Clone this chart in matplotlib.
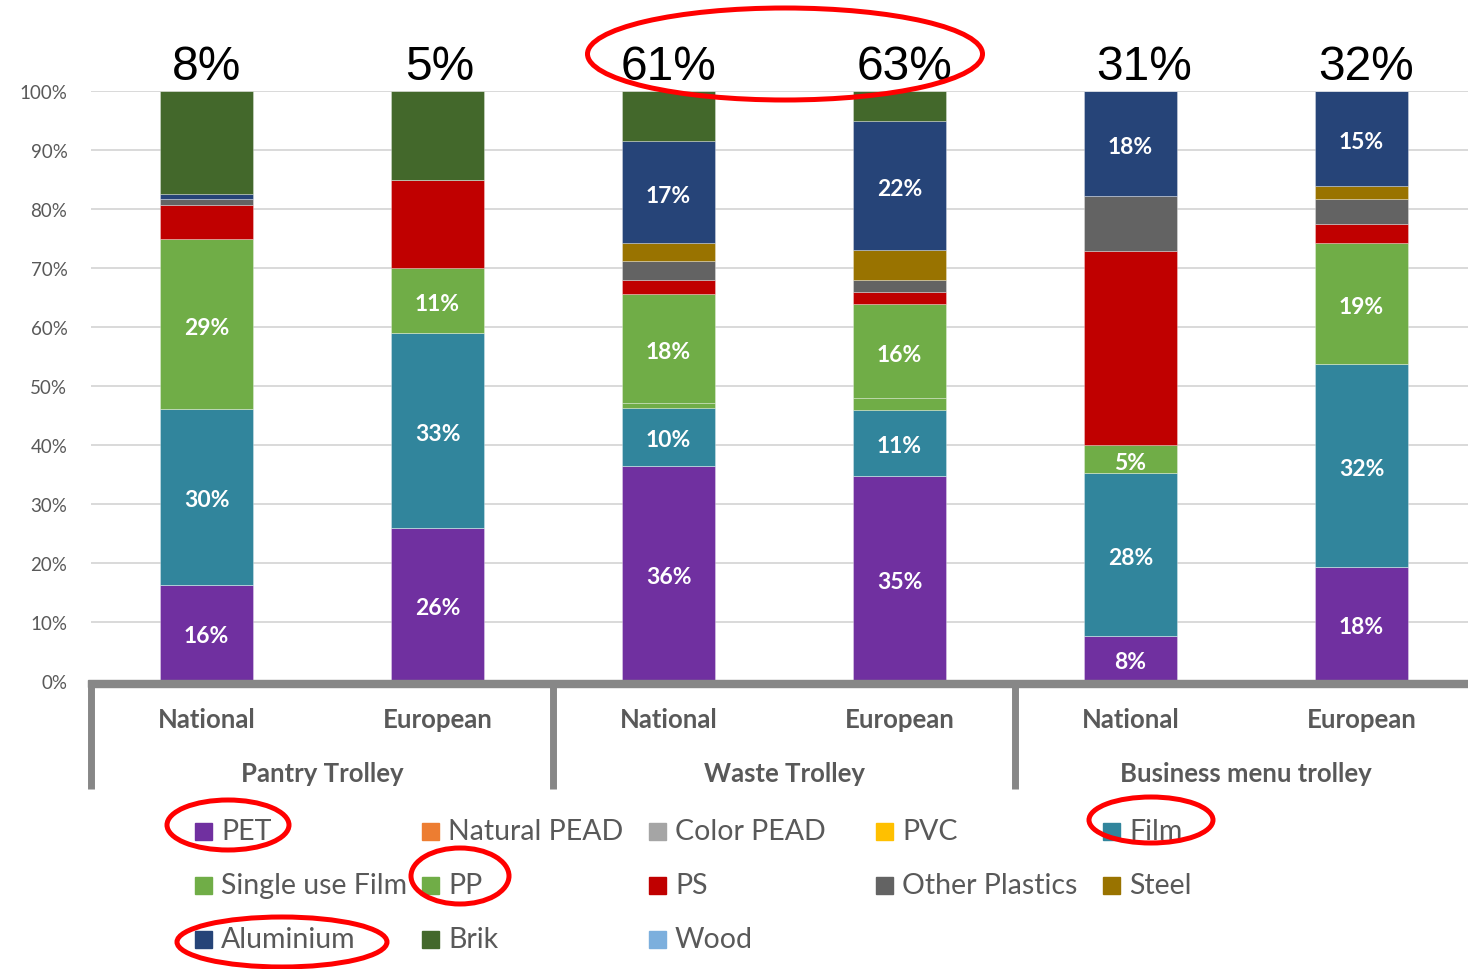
import matplotlib
matplotlib.use("Agg")
from matplotlib import pyplot as plt
from matplotlib.patches import Ellipse, Rectangle
import numpy as np

# data (raw shares per trolley, bars are normalised to 100 %)
bars = ['National', 'European', 'National', 'European', 'National', 'European']
groups = ['Pantry Trolley', 'Waste Trolley', 'Business menu trolley']
top_labels = ['8%', '5%', '61%', '63%', '31%', '32%']

series = ['PET', 'Natural PEAD', 'Color PEAD', 'PVC', 'Film',
          'Single use Film', 'PP', 'PS', 'Other Plastics', 'Steel',
          'Aluminium', 'Brik', 'Wood']
colors = ['#7030a0', '#ed7d31', '#a5a5a5', '#ffc000', '#31859c',
          '#70ad47', '#70ad47', '#c00000', '#636363', '#997300',
          '#264478', '#43682b', '#7cafdd']

pet = [16.3, 26.0, 36.2, 34.8, 7.6, 18.0]
natural_pead = [0, 0, 0, 0, 0, 0]
color_pead = [0, 0, 0, 0, 0, 0]
pvc = [0, 0, 0, 0, 0, 0]
film = [29.8, 33.1, 9.9, 11.1, 27.6, 32.0]
single_use_film = [0, 0, 0.8, 2.0, 0, 0]
pp = [28.8, 10.9, 18.3, 16.0, 4.7, 19.0]
ps = [5.8, 15.0, 2.4, 2.1, 32.9, 3.1]
other_plastics = [1.0, 0, 3.2, 1.9, 9.3, 3.9]
steel = [0, 0, 3.0, 5.1, 0, 2.0]
aluminium = [0.9, 0, 17.3, 21.9, 17.8, 15.0]
brik = [17.4, 15.1, 8.4, 5.1, 0, 0]
wood = [0, 0, 0, 0, 0, 0]

values = np.array([pet, natural_pead, color_pead, pvc, film, single_use_film,
                   pp, ps, other_plastics, steel, aluminium, brik, wood], dtype=float)
labelled = ['PET', 'Film', 'PP', 'Aluminium']

W, H = 1468, 970
fig = plt.figure(figsize=(W / 100, H / 100), dpi=100)
ax = fig.add_axes([91 / W, 288 / H, 1 - 91 / W, 590 / H])

x = np.arange(len(bars))
share = values / values.sum(axis=0) * 100
bottom = np.zeros(len(bars))
for i, name in enumerate(series):
    ax.bar(x, share[i], 0.403, bottom=bottom, color=colors[i],
           edgecolor=(1, 1, 1, 0.35), linewidth=0.6, zorder=3)
    if name in labelled:
        for j in range(len(bars)):
            if values[i, j] >= 4.5:
                ax.text(x[j], bottom[j] + share[i, j] / 2 - 0.5, '%d%%' % round(values[i, j]),
                        ha='center', va='center', color='white', fontsize=16.5,
                        fontweight='bold', family='Lato', zorder=4)
    bottom += share[i]

ax.set_xlim(-0.5, -0.5 + (W - 91) / 231)
ax.set_ylim(0, 100)
ax.set_yticks(np.arange(0, 101, 10))
ax.set_yticklabels(['%d%%' % t for t in range(0, 101, 10)], family='Lato',
                   fontsize=13.5, color='#595959')
ax.tick_params(axis='y', length=0, pad=17)
ax.tick_params(axis='x', length=0, labelbottom=False)
ax.grid(axis='y', color='#d9d9d9', linewidth=1.4, zorder=0)
for s in ax.spines.values():
    s.set_visible(False)

# category axis: thick baseline and group separators
fig.add_artist(Rectangle((88 / W, (H - 688) / H), 1, 7 / H, color='#878787',
                         transform=fig.transFigure, zorder=5))
for bx in [-0.5, 1.5, 3.5]:
    ax.plot([bx, bx], [0, -(790 - 682) / 590 * 100], color='#878787',
            linewidth=5, clip_on=False, solid_capstyle='butt', zorder=5)

top_dx = [0, 0.01, 0, 0.02, 0.06, 0.02]
for j, b in enumerate(bars):
    ax.text(x[j], -6.5, b, ha='center', va='center', fontsize=18.5,
            fontweight='bold', color='#595959', family='Lato')
    ax.text(x[j] + top_dx[j], 102.0, top_labels[j], ha='center', va='baseline',
            fontsize=34.5, color='black', family='Liberation Sans')
for g, name in enumerate(groups):
    ax.text(2 * g + 0.5, -15.6, name, ha='center', va='center', fontsize=18.5,
            fontweight='bold', color='#595959', family='Lato')

# legend, laid out row by row like the original
for i, name in enumerate(series):
    row, col = divmod(i, 5)
    lx = 195 + col * 227
    ly = 832 + row * 54
    fig.add_artist(Rectangle((lx / W, (H - ly - 8.5) / H), 17 / W, 17 / H,
                             color=colors[i], transform=fig.transFigure))
    fig.text((lx + 26) / W, (H - ly) / H, name, ha='left', va='center',
             fontsize=20.5, color='#595959', family='Lato')

# red highlight ellipses
marks = [(785, 55, 395, 92), (228, 826, 122, 50), (1151, 821, 124, 46),
         (460, 877, 98, 56), (282, 943, 210, 50)]
for cx, cy, ew, eh in marks:
    fig.add_artist(Ellipse((cx / W, (H - cy) / H), ew / W, eh / H, fill=False,
                           edgecolor='#ff0000', linewidth=3.6,
                           transform=fig.transFigure, zorder=10))

fig.savefig('out.png', dpi=100)
